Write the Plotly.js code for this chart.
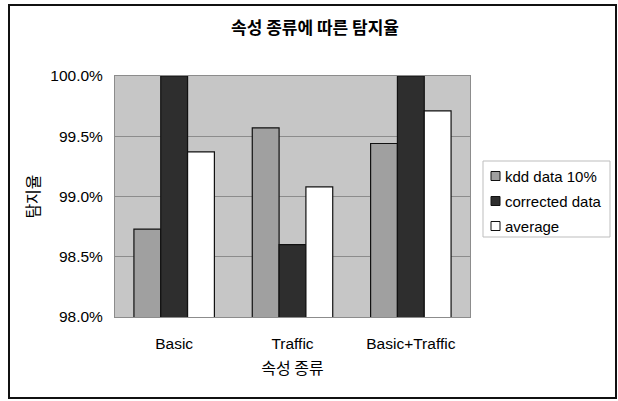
<!DOCTYPE html>
<html>
<head>
<meta charset="utf-8">
<script src="https://cdn.plot.ly/plotly-3.0.1.min.js"></script>
<style>
  html, body { margin: 0; padding: 0; background: #ffffff; }
  #chart { width: 618px; height: 401px; }
</style>
</head>
<body>
<div id="chart"></div>
<script>
// Detection rate by attribute set
const categories = ['Basic', 'Traffic', 'Basic+Traffic'];
const seriesNames = ['kdd data 10%', 'corrected data', 'average'];
const kddData10 = [0.9873, 0.9957, 0.9944];
const correctedData = [1.0000, 0.9860, 1.0000];
const averageRate = [0.9937, 0.9908, 0.9971];
const yTicks = [0.98, 0.985, 0.99, 0.995, 1.0];

const seriesValues = [kddData10, correctedData, averageRate];
const seriesFill = ['#a0a0a0', '#2e2e2e', '#ffffff'];

const latin = 'Liberation Sans, Arial, sans-serif';
const hangul = 'Noto Sans CJK KR, sans-serif';

const traces = seriesNames.map((name, i) => ({
  type: 'bar',
  name: name,
  x: categories,
  y: seriesValues[i],
  marker: { color: seriesFill[i], line: { color: '#111111', width: 1.2 } },
  showlegend: false,
  hoverinfo: 'x+y+name'
}));

// page pixel -> paper coordinate of the plot area (115..470 x 76..317)
const px = x => (x - 115) / 355;
const py = y => (317 - y) / 241;

// outer frame and legend box
const shapes = [
  {
    type: 'rect', xref: 'paper', yref: 'paper',
    x0: px(9), x1: px(616), y0: py(398), y1: py(5),
    line: { color: '#111111', width: 2 }, fillcolor: 'rgba(0,0,0,0)',
    layer: 'above'
  },
  {
    type: 'rect', xref: 'paper', yref: 'paper',
    x0: px(483), x1: px(610), y0: py(237), y1: py(161),
    line: { color: '#bdbdbd', width: 1 }, fillcolor: '#ffffff',
    layer: 'below'
  }
];
const annotations = [];

// legend entries: swatch + label
seriesNames.forEach((name, i) => {
  const cy = 176 + i * 25;
  shapes.push({
    type: 'rect', xref: 'paper', yref: 'paper',
    x0: px(491), x1: px(500), y0: py(cy + 4.5), y1: py(cy - 4.5),
    line: { color: '#111111', width: 1 }, fillcolor: seriesFill[i],
    layer: 'above'
  });
  annotations.push({
    xref: 'paper', yref: 'paper',
    x: px(503), y: py(cy), xanchor: 'left', yanchor: 'middle',
    text: name, showarrow: false,
    font: { family: latin, size: 15, color: '#000000' }
  });
});

const layout = {
  width: 618,
  height: 401,
  margin: { l: 115, r: 148, t: 76, b: 84, autoexpand: false },
  paper_bgcolor: '#ffffff',
  plot_bgcolor: '#c6c6c6',
  barmode: 'group',
  bargap: 0.32,
  bargroupgap: 0,
  font: { family: latin, size: 15, color: '#000000' },
  showlegend: false,
  title: {
    text: '속성 종류에 따른 탐지율',
    font: { family: hangul, size: 17, color: '#000000', weight: 'bold' },
    xref: 'container', x: 315 / 618, xanchor: 'center',
    yref: 'container', y: 1 - 28 / 401, yanchor: 'middle'
  },
  xaxis: {
    type: 'category',
    showline: true, linecolor: '#8c8c8c', linewidth: 1, mirror: true,
    ticks: '', tickfont: { family: latin, size: 15.5, color: '#000000' },
    ticklabelstandoff: 12,
    title: {
      text: '속성 종류',
      font: { family: hangul, size: 16, color: '#000000' },
      standoff: 12
    }
  },
  yaxis: {
    range: [0.98, 1.0],
    tickvals: yTicks,
    tickformat: '.1%',
    tickfont: { family: latin, size: 15.5, color: '#000000' },
    ticks: '', ticklabelstandoff: 8,
    showgrid: true, gridcolor: '#8c8c8c', gridwidth: 1,
    showline: true, linecolor: '#8c8c8c', linewidth: 1, mirror: true,
    zeroline: false,
    title: {
      text: '탐지율',
      font: { family: hangul, size: 16, color: '#000000' },
      standoff: 6
    }
  },
  shapes: shapes,
  annotations: annotations
};

Plotly.newPlot('chart', traces, layout, { displayModeBar: false, staticPlot: true });
</script>
</body>
</html>
